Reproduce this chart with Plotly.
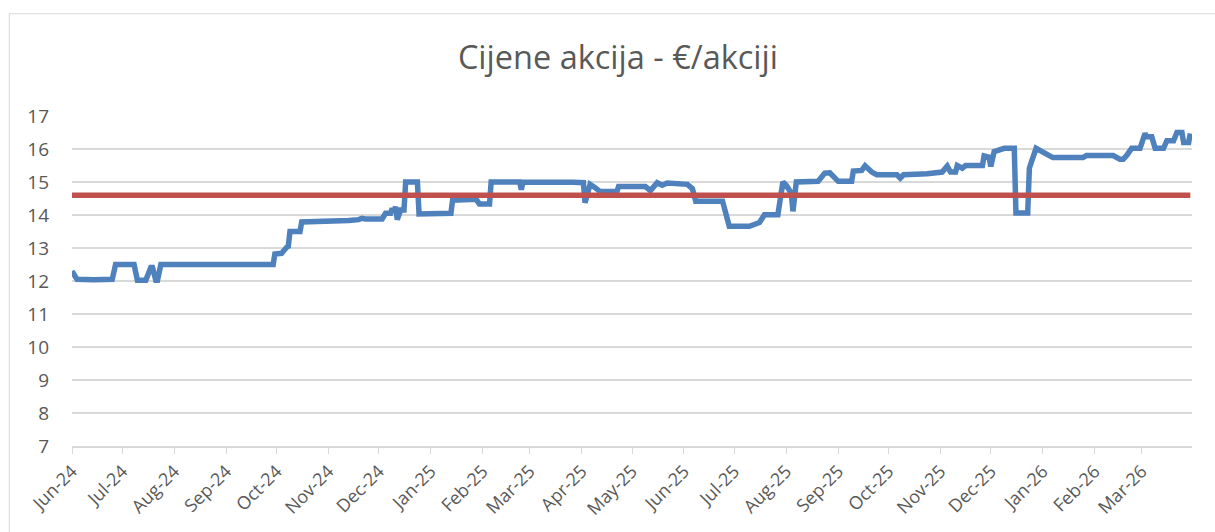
import plotly.graph_objects as go

# Daily share price (€/share)
dates = [
    "2024-06-01", "2024-06-04", "2024-06-14", "2024-06-24", "2024-06-25", "2024-06-27",
    "2024-07-08", "2024-07-10", "2024-07-15", "2024-07-18", "2024-07-19", "2024-07-21",
    "2024-07-22", "2024-07-24", "2024-09-29", "2024-09-30", "2024-10-04", "2024-10-07",
    "2024-10-08", "2024-10-09", "2024-10-15", "2024-10-16", "2024-11-11", "2024-11-13",
    "2024-11-19", "2024-11-21", "2024-11-23", "2024-12-03", "2024-12-05", "2024-12-08",
    "2024-12-09", "2024-12-10", "2024-12-11", "2024-12-12", "2024-12-14", "2024-12-16",
    "2024-12-17", "2024-12-24", "2024-12-25", "2025-01-13", "2025-01-14", "2025-01-28",
    "2025-01-30", "2025-02-05", "2025-02-06", "2025-02-23", "2025-02-24", "2025-02-25",
    "2025-03-27", "2025-04-02", "2025-04-03", "2025-04-06", "2025-04-09", "2025-04-12",
    "2025-04-22", "2025-04-23", "2025-05-09", "2025-05-12", "2025-05-16", "2025-05-19",
    "2025-05-22", "2025-05-31", "2025-06-03", "2025-06-06", "2025-06-08", "2025-06-24",
    "2025-06-28", "2025-07-10", "2025-07-16", "2025-07-19", "2025-07-27", "2025-07-30",
    "2025-08-01", "2025-08-04", "2025-08-05", "2025-08-07", "2025-08-20", "2025-08-24",
    "2025-08-27", "2025-09-01", "2025-09-09", "2025-09-10", "2025-09-15", "2025-09-17",
    "2025-09-21", "2025-09-24", "2025-10-06", "2025-10-08", "2025-10-10", "2025-10-24",
    "2025-11-02", "2025-11-05", "2025-11-07", "2025-11-10", "2025-11-11", "2025-11-14",
    "2025-11-16", "2025-11-26", "2025-11-27", "2025-11-30", "2025-12-01", "2025-12-03",
    "2025-12-08", "2025-12-09", "2025-12-15", "2025-12-16", "2025-12-23", "2025-12-24",
    "2025-12-25", "2025-12-28", "2026-01-07", "2026-01-25", "2026-01-27", "2026-02-12",
    "2026-02-16", "2026-02-18", "2026-02-20", "2026-02-23", "2026-02-28", "2026-03-03",
    "2026-03-04", "2026-03-07", "2026-03-09", "2026-03-14", "2026-03-16", "2026-03-20",
    "2026-03-22", "2026-03-25", "2026-03-26", "2026-03-29", "2026-03-30",
]
prices = [
    12.30, 12.05, 12.04, 12.03, 12.05, 12.50,
    12.50, 12.02, 12.02, 12.41, 12.41, 12.02,
    12.02, 12.50, 12.50, 12.82, 12.84, 13.02,
    13.05, 13.50, 13.50, 13.79, 13.80, 13.83,
    13.86, 13.90, 13.88, 13.88, 14.05, 14.05,
    14.20, 14.10, 14.25, 13.86, 14.15, 14.15,
    15.00, 15.00, 14.03, 14.05, 14.45, 14.48,
    14.33, 14.33, 15.00, 15.00, 14.77, 15.00,
    14.99, 14.98, 14.37, 14.93, 14.83, 14.71,
    14.71, 14.86, 14.86, 14.74, 14.98, 14.90,
    14.97, 14.97, 14.93, 14.80, 14.42, 14.42,
    13.66, 13.66, 13.77, 14.01, 14.01, 15.00,
    14.90, 14.66, 14.11, 15.00, 15.02, 15.27,
    15.28, 15.02, 15.02, 15.33, 15.35, 15.49,
    15.30, 15.22, 15.22, 15.12, 15.22, 15.25,
    15.30, 15.48, 15.30, 15.30, 15.50, 15.42,
    15.50, 15.50, 15.79, 15.75, 15.47, 15.92,
    15.97, 16.02, 16.02, 14.06, 14.06, 15.42,
    15.57, 16.02, 15.74, 15.74, 15.80, 15.80,
    15.69, 15.69, 15.80, 16.02, 16.02, 16.47,
    16.37, 16.37, 16.02, 16.02, 16.25, 16.25,
    16.50, 16.50, 16.20, 16.20, 16.47,
]
average_price = 14.6
title_text = "Cijene akcija - €/akciji"
y_ticks = [7, 8, 9, 10, 11, 12, 13, 14, 15, 16, 17]

BLUE = "#4F81BD"
RED = "#C0504D"
GRID = "#D9D9D9"
TEXT = "#595959"
FONT = "Open Sans"

fig = go.Figure()
fig.add_trace(go.Scatter(
    x=dates, y=prices, mode="lines",
    line=dict(color=BLUE, width=5.5), hoverinfo="x+y", showlegend=False,
))
fig.add_trace(go.Scatter(
    x=[dates[0], dates[-1]], y=[average_price, average_price], mode="lines",
    line=dict(color=RED, width=5.5), showlegend=False,
))

# chart-area border
fig.add_shape(type="rect", xref="paper", yref="paper",
              x0=-0.056, x1=1.03, y0=-0.3, y1=1.31,
              line=dict(color=GRID, width=1), fillcolor="rgba(0,0,0,0)", layer="below")

fig.update_layout(
    width=1215, height=532,
    margin=dict(l=72, r=23, t=116, b=84),
    paper_bgcolor="white", plot_bgcolor="white",
    showlegend=False,
    title=dict(text=title_text, x=0.5086, xanchor="center", y=0.891, yanchor="middle",
               yref="container", font=dict(family=FONT, size=32.5, color=TEXT)),
    font=dict(family=FONT, color=TEXT),
)
fig.update_xaxes(
    type="date", range=["2024-06-01", "2026-03-31"],
    tick0="2024-06-01", dtick="M1", tickformat="%b-%y", tickangle=-45,
    ticks="outside", ticklen=6, tickcolor=GRID, tickwidth=1.3,
    showgrid=False, showline=True, linecolor=GRID, linewidth=1.5,
    tickfont=dict(family=FONT, size=18, color=TEXT), zeroline=False,
)
fig.update_yaxes(
    range=[7, 17], tickvals=y_ticks, showgrid=True, gridcolor=GRID, gridwidth=1.5,
    showline=False, zeroline=False, ticks="", ticklabelstandoff=22,
    tickfont=dict(family=FONT, size=19, color=TEXT),
)

fig.write_html("out.html", config={"displayModeBar": False},
               post_script="document.body.style.margin='0';")
